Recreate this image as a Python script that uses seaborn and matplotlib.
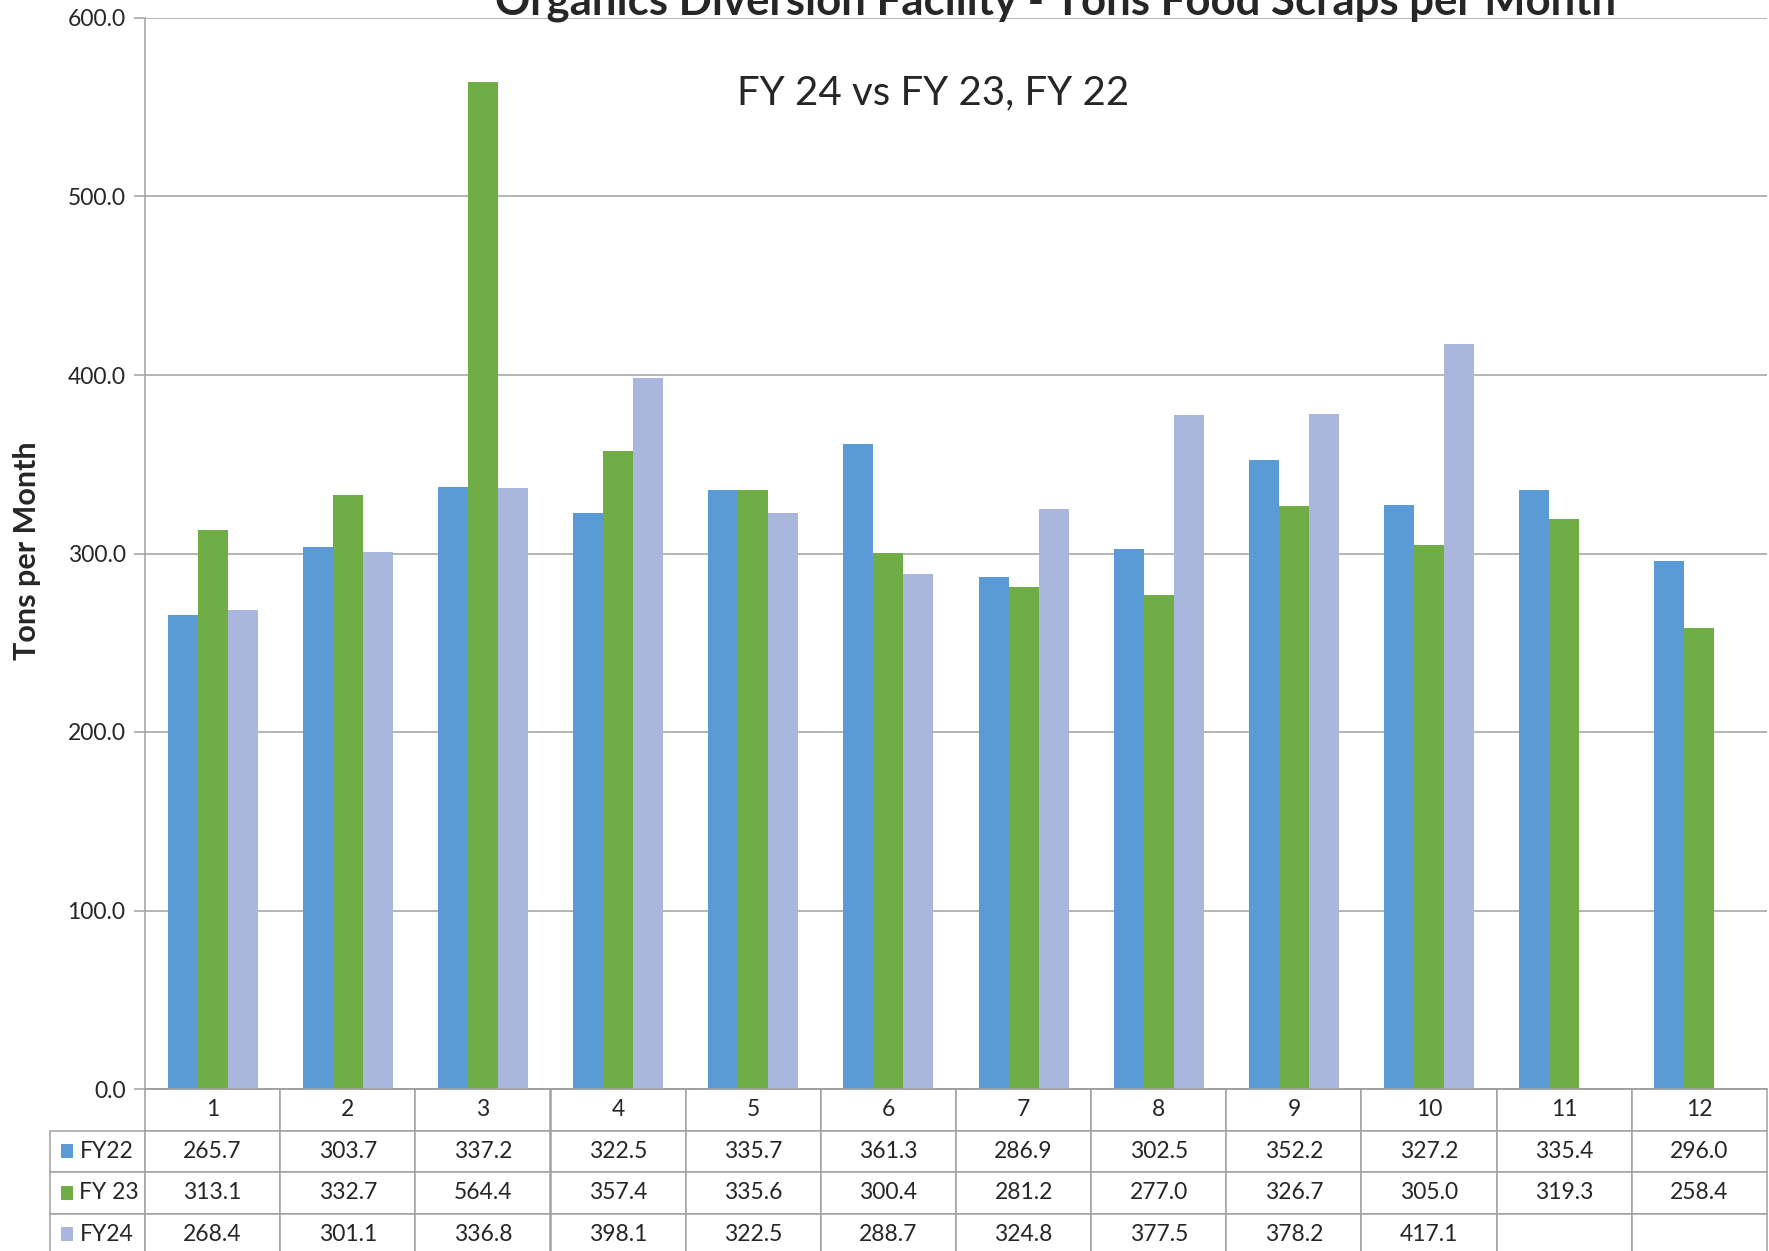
import numpy as np
import pandas as pd
import seaborn as sns
import matplotlib.pyplot as plt
from matplotlib.patches import Rectangle

months = [str(m) for m in range(1, 13)]
series_names = ['FY22', 'FY 23', 'FY24']
fy22 = [265.7, 303.7, 337.2, 322.5, 335.7, 361.3, 286.9, 302.5, 352.2, 327.2, 335.4, 296.0]
fy23 = [313.1, 332.7, 564.4, 357.4, 335.6, 300.4, 281.2, 277.0, 326.7, 305.0, 319.3, 258.4]
fy24 = [268.4, 301.1, 336.8, 398.1, 322.5, 288.7, 324.8, 377.5, 378.2, 417.1, np.nan, np.nan]
colors = ['#5B9BD5', '#70AD47', '#A9B7DC']
yticks = [0, 100, 200, 300, 400, 500, 600]

title = 'Organics Diversion Facility - Tons Food Scraps per Month'
subtitle = 'FY 24 vs FY 23, FY 22'
ylabel = 'Tons per Month'

df = pd.DataFrame({
    'month': months * 3,
    'series': np.repeat(series_names, 12),
    'tons': fy22 + fy23 + fy24,
})

sns.set_style('white')
plt.rcParams['font.family'] = ['Lato', 'DejaVu Sans']
grey = '#A0A0A0'

fig = plt.figure(figsize=(17.69, 12.51), dpi=100)
ax = fig.add_axes([145 / 1769, 1 - 1089 / 1251, 1622 / 1769, 1071 / 1251])

sns.barplot(data=df, x='month', y='tons', hue='series', hue_order=series_names,
            palette=colors, width=0.667, linewidth=0, saturation=1,
            legend=False, errorbar=None, ax=ax)

ax.set_ylim(0, 600)
ax.set_xlim(-0.5, 11.5)
ax.set_yticks(yticks)
ax.set_yticklabels([f'{v:.1f}' for v in yticks], fontsize=16.5)
ax.yaxis.grid(True, color=grey, linewidth=1.1)
ax.set_axisbelow(True)
ax.tick_params(axis='y', length=8, width=1.1, color=grey, direction='out', pad=6, left=True)
ax.tick_params(axis='x', length=0, labelbottom=False)
ax.set_xlabel('')
ax.set_ylabel('')
for side in ['top', 'right']:
    ax.spines[side].set_visible(False)
for side in ['left', 'bottom']:
    ax.spines[side].set_color(grey)
    ax.spines[side].set_linewidth(1.1)

# data table under the bars
ax_w, ax_h = 1622, 1071
lab_w = 95 / ax_w
row_h = 41.5 / ax_h
tab_h = 4 * row_h
cell_text = []
for name, vals in zip(series_names, [fy22, fy23, fy24]):
    cell_text.append([name] + ['' if np.isnan(v) else f'{v:.1f}' for v in vals])
tbl = ax.table(cellText=cell_text, colLabels=[''] + months, cellLoc='center',
               colWidths=[lab_w] + [1 / 12] * 12,
               bbox=[-lab_w, -tab_h, 1 + lab_w, tab_h])
tbl.auto_set_font_size(False)
tbl.set_fontsize(16.5)
for (r, c), cell in tbl.get_celld().items():
    cell.set_edgecolor(grey)
    cell.set_linewidth(1.1)
    if r == 0 and c == 0:
        cell.visible_edges = 'open'
    if c == 0 and r > 0:
        cell._loc = 'left'
        cell.PAD = 0.31
        cell.get_text().set_ha('left')

for i, col in enumerate(colors):
    yc = -row_h * (1.5 + i)
    ax.add_patch(Rectangle((-lab_w + 11 / ax_w, yc - 7 / ax_h), 12 / ax_w, 14 / ax_h,
                           facecolor=col, edgecolor='none', transform=ax.transAxes,
                           clip_on=False))

fig.text(1056 / 1769, 1 - 15 / 1251, title, ha='center', va='baseline',
         fontsize=31.5, fontweight='bold')
fig.text(933 / 1769, 1 - 104 / 1251, subtitle, ha='center', va='baseline', fontsize=29)
fig.text(27 / 1769, 1 - 551 / 1251, ylabel, ha='center', va='center', rotation=90,
         fontsize=22, fontweight='bold')

fig.savefig('out.png', dpi=100)
